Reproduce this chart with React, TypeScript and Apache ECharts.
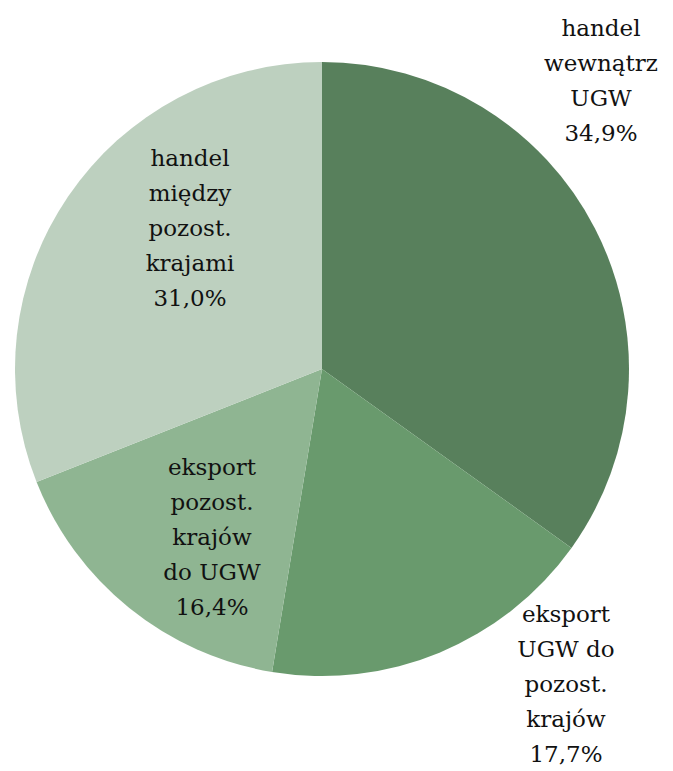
import React, { useEffect, useRef } from "react";
import * as echarts from "echarts";

const categories = [
  "handel\nwewnątrz\nUGW",
  "eksport\nUGW do\npozost.\nkrajów",
  "eksport\npozost.\nkrajów\ndo UGW",
  "handel\nmiędzy\npozost.\nkrajami",
];
const values = [34.9, 17.7, 16.4, 31.0];
const valueLabels = ["34,9%", "17,7%", "16,4%", "31,0%"];
const colors = ["#58805c", "#699a6d", "#8fb592", "#bdd0bf"];
const labelCenters = [
  [601, 80],
  [566, 684],
  [212, 537],
  [190, 228],
];

const FONT = "DejaVu Serif";

export default function App() {
  const ref = useRef<HTMLDivElement>(null);
  useEffect(() => {
    if (!ref.current) return;
    const chart = echarts.init(ref.current, null, { renderer: "svg" });
    chart.setOption({
      animation: false,
      backgroundColor: "#ffffff",
      textStyle: { fontFamily: FONT },
      series: [
        {
          type: "pie",
          center: [322, 369],
          radius: 307,
          startAngle: 90,
          clockwise: true,
          data: categories.map((name, i) => ({
            name,
            value: values[i],
            itemStyle: { color: colors[i] },
          })),
          itemStyle: { borderWidth: 0 },
          label: {
            show: true,
            position: "inside",
            formatter: (p: any) => `${p.name}\n${valueLabels[p.dataIndex]}`,
            fontFamily: FONT,
            fontSize: 23,
            lineHeight: 35,
            color: "#111111",
            align: "center",
          },
          labelLine: { show: false },
          labelLayout: (params: any) => ({
            x: labelCenters[params.dataIndex][0],
            y: labelCenters[params.dataIndex][1],
            align: "center",
            verticalAlign: "middle",
          }),
          emphasis: { disabled: true },
        },
      ],
    });
    return () => chart.dispose();
  }, []);
  return (
    <div
      ref={ref}
      style={{ position: "fixed", left: 0, top: 0, width: 673, height: 771 }}
    />
  );
}
